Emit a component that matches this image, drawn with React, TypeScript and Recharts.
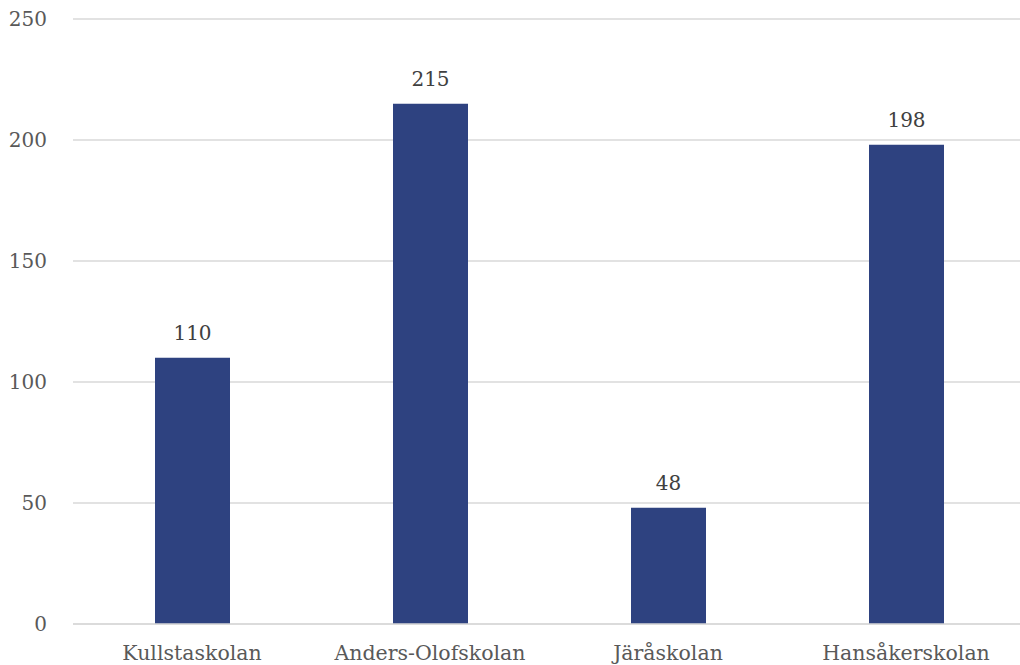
import { BarChart, Bar, XAxis, YAxis, CartesianGrid, LabelList } from "recharts";

const schools = ["Kullstaskolan", "Anders-Olofskolan", "Järåskolan", "Hansåkerskolan"];
const counts = [110, 215, 48, 198];
const yTicks = [0, 50, 100, 150, 200, 250];

const data = schools.map((name, i) => ({ name, value: counts[i] }));

const FONT = "'DejaVu Serif', serif";
const TEXT = "#595959";

export default function App() {
  return (
    <div
      style={{
        position: "absolute",
        left: 0,
        top: 0,
        width: 1020,
        height: 665,
        overflow: "hidden",
        background: "#fff",
      }}
    >
      <BarChart
        width={1030}
        height={665}
        data={data}
        margin={{ top: 19, right: 5, bottom: 0, left: 0 }}
        barSize={75}
      >
        <CartesianGrid vertical={false} stroke="#d9d9d9" strokeWidth={1.5} />
        <XAxis
          dataKey="name"
          height={41}
          tickLine={false}
          axisLine={{ stroke: "#d9d9d9", strokeWidth: 1.5 }}
          tick={{ fill: TEXT, fontFamily: FONT, fontSize: 20.5 }}
          tickMargin={15}
          interval={0}
        />
        <YAxis
          width={73}
          domain={[0, 250]}
          ticks={yTicks}
          tickLine={false}
          axisLine={false}
          tick={{ fill: TEXT, fontFamily: FONT, fontSize: 20 }}
          tickMargin={20}
        />
        <Bar dataKey="value" fill="#2e4280" isAnimationActive={false}>
          <LabelList
            dataKey="value"
            position="top"
            offset={18}
            fill="#404040"
            fontFamily={FONT}
            fontSize={20}
          />
        </Bar>
      </BarChart>
    </div>
  );
}
